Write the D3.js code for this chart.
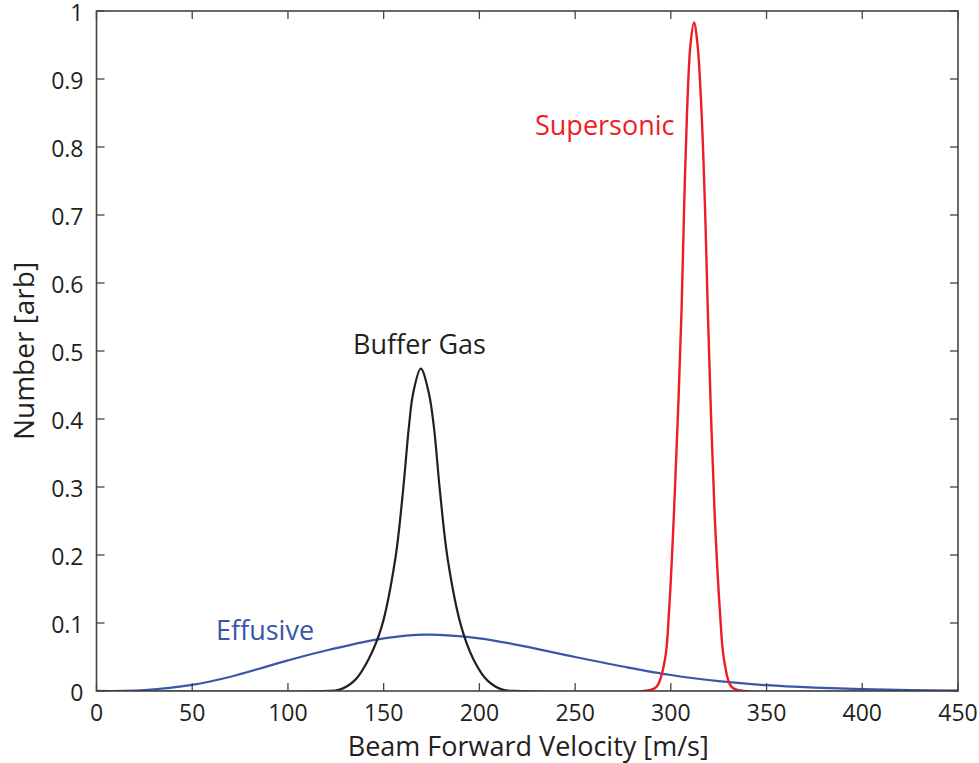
<!DOCTYPE html>
<html>
<head>
<meta charset="utf-8">
<script src="https://cdn.jsdelivr.net/npm/d3@7"></script>
<style>
  html, body { margin: 0; padding: 0; background: #fff; }
  svg { display: block; font-family: "Open Sans", "Noto Sans", sans-serif; }
</style>
</head>
<body>
<svg id="viz" width="979" height="763"></svg>
<script>
const xTicks = [0, 50, 100, 150, 200, 250, 300, 350, 400, 450];
const yTicks = [0, 0.1, 0.2, 0.3, 0.4, 0.5, 0.6, 0.7, 0.8, 0.9, 1];

// [velocity m/s, number arb]
const effusive = [
  [0, 0], [25, 0.0015], [50, 0.009], [70, 0.021], [100, 0.045], [122, 0.061],
  [150, 0.0775], [172, 0.083], [200, 0.0775], [223, 0.066], [250, 0.050],
  [275, 0.036], [300, 0.0235], [325, 0.0145], [350, 0.0085], [375, 0.005],
  [400, 0.0028], [425, 0.0012], [450, 0.0005]
];
const bufferGas = [
  [0, 0], [118, 0], [127, 0.002], [135, 0.016], [142, 0.046], [149, 0.095],
  [156, 0.193], [160, 0.291], [163.2, 0.389], [165.4, 0.438], [169.4, 0.474],
  [173.6, 0.438], [176.2, 0.389], [179.5, 0.291], [183.5, 0.193], [190.5, 0.095],
  [197, 0.046], [204, 0.016], [212, 0.002], [222, 0], [450, 0]
];
const supersonic = [
  [0, 0], [286, 0], [292.5, 0.006], [296.9, 0.046], [299.1, 0.119], [301.7, 0.266],
  [303.8, 0.413], [305.6, 0.560], [306.9, 0.707], [308.5, 0.854], [310.3, 0.952],
  [312.1, 0.983], [313.9, 0.952], [316, 0.854], [317.9, 0.707], [319.3, 0.560],
  [320.9, 0.413], [322.8, 0.266], [325.6, 0.119], [327.8, 0.046], [331.7, 0.006],
  [338, 0], [450, 0]
];

const svg = d3.select("#viz");
const width = 979, height = 763;
const margin = { top: 11, right: 21, bottom: 72, left: 96.5 };

const x = d3.scaleLinear().domain([0, 450]).range([margin.left, width - margin.right]);
const y = d3.scaleLinear().domain([0, 1]).range([height - margin.bottom, margin.top]);

const line = d3.line()
  .x(d => x(d[0]))
  .y(d => y(d[1]))
  .curve(d3.curveCatmullRom.alpha(0.5));

svg.append("clipPath").attr("id", "plot")
  .append("rect")
  .attr("x", margin.left).attr("y", margin.top - 2)
  .attr("width", width - margin.left - margin.right)
  .attr("height", height - margin.top - margin.bottom + 2);

const curves = svg.append("g").attr("clip-path", "url(#plot)");

// blue first, then red, black lands on top
curves.append("path").datum(effusive)
  .attr("d", line).attr("fill", "none")
  .attr("stroke", "#3a56a8").attr("stroke-width", 2.2);
curves.append("path").datum(supersonic)
  .attr("d", line).attr("fill", "none")
  .attr("stroke", "#ee1c24").attr("stroke-width", 2.4);
curves.append("path").datum(bufferGas)
  .attr("d", line).attr("fill", "none")
  .attr("stroke", "#231f20").attr("stroke-width", 2.2);

// axes, ticks pointing inward, mirrored on top and right
const axisColor = "#444";
const tickLen = 8;
const gAx = svg.append("g");

gAx.selectAll(".xb").data(xTicks).enter().append("line")
  .attr("x1", d => x(d)).attr("x2", d => x(d))
  .attr("y1", y(0)).attr("y2", y(0) - tickLen)
  .attr("stroke", axisColor).attr("stroke-width", 1.3);
gAx.selectAll(".xt").data(xTicks).enter().append("line")
  .attr("x1", d => x(d)).attr("x2", d => x(d))
  .attr("y1", y(1)).attr("y2", y(1) + tickLen)
  .attr("stroke", axisColor).attr("stroke-width", 1.3);
gAx.selectAll(".yl").data(yTicks).enter().append("line")
  .attr("x1", x(0)).attr("x2", x(0) + tickLen)
  .attr("y1", d => y(d)).attr("y2", d => y(d))
  .attr("stroke", axisColor).attr("stroke-width", 1.3);
gAx.selectAll(".yr").data(yTicks).enter().append("line")
  .attr("x1", x(450)).attr("x2", x(450) - tickLen)
  .attr("y1", d => y(d)).attr("y2", d => y(d))
  .attr("stroke", axisColor).attr("stroke-width", 1.3);

gAx.append("rect")
  .attr("x", x(0)).attr("y", y(1))
  .attr("width", x(450) - x(0)).attr("height", y(0) - y(1))
  .attr("fill", "none").attr("stroke", axisColor).attr("stroke-width", 1.6);

gAx.selectAll(".xl").data(xTicks).enter().append("text")
  .attr("x", d => x(d)).attr("y", y(0) + 30)
  .attr("text-anchor", "middle")
  .attr("font-size", 23).attr("fill", "#231f20")
  .text(d => d);
gAx.selectAll(".ylab").data(yTicks).enter().append("text")
  .attr("x", x(0) - 13).attr("y", d => y(d) + (d === 1 ? 10 : 9.5))
  .attr("text-anchor", "end")
  .attr("font-size", 23).attr("fill", "#231f20")
  .text(d => d);

svg.append("text")
  .attr("x", (x(0) + x(450)) / 2 + 1).attr("y", 756)
  .attr("text-anchor", "middle")
  .attr("font-size", 27).attr("fill", "#231f20")
  .text("Beam Forward Velocity [m/s]");

svg.append("text")
  .attr("transform", `translate(34, ${y(0.5)}) rotate(-90)`)
  .attr("text-anchor", "middle")
  .attr("font-size", 28).attr("fill", "#231f20")
  .text("Number [arb]");

// curve labels
svg.append("text").attr("x", 535).attr("y", 135)
  .attr("font-size", 27).attr("fill", "#ee1c24").text("Supersonic");
svg.append("text").attr("x", 353).attr("y", 354)
  .attr("font-size", 27).attr("fill", "#231f20").text("Buffer Gas");
svg.append("text").attr("x", 216).attr("y", 640)
  .attr("font-size", 27).attr("fill", "#3a56a8").text("Effusive");
</script>
</body>
</html>
